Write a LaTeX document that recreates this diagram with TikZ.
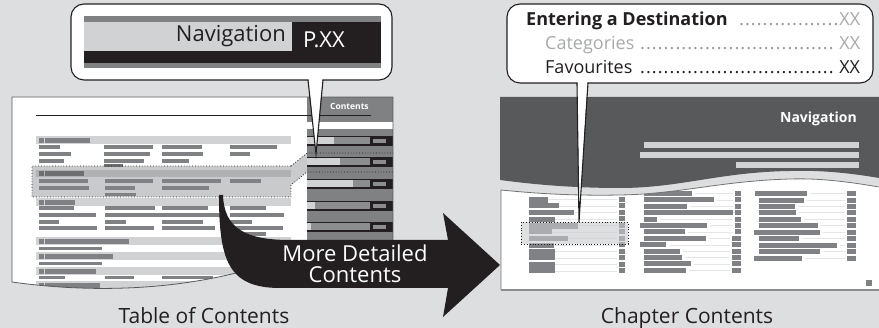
\documentclass[tikz,border=0pt]{standalone}
\usepackage{fontspec}
\setmainfont{Open Sans}
\definecolor{bgc}{RGB}{221,222,224}
\definecolor{barc}{RGB}{128,129,132}
\definecolor{bandc}{RGB}{209,210,212}
\definecolor{hdrc}{RGB}{88,89,91}
\definecolor{inkc}{RGB}{35,31,32}
\definecolor{midc}{RGB}{128,129,131}
\definecolor{tabbar}{RGB}{140,141,143}
\definecolor{hlc}{RGB}{201,202,204}
\definecolor{hlband}{RGB}{176,177,179}
\definecolor{hlbar}{RGB}{110,111,113}
\definecolor{dotgray}{RGB}{150,151,153}
\definecolor{lightgray2}{RGB}{168,169,171}
\definecolor{faintc}{RGB}{228,229,230}
\newcommand{\dotlead}{\leaders\hbox to 5.9pt{\hss.\hss}\hfill}
\begin{document}
\begin{tikzpicture}[x=1pt,y=-1pt,
  bar/.style={fill=barc},
  band/.style={fill=bandc},
  hdot/.style={dotted, line width=0.8pt, draw=inkc},
  callout/.style={fill=white, draw=inkc, line width=1.1pt, rounded corners=13pt},
  capt/.style={font=\fontsize{21}{21}\selectfont, text=inkc, inner sep=0pt, anchor=base, text depth=0pt},
  ctext/.style={font=\fontsize{18}{18}\selectfont, inner sep=0pt, anchor=base west}]
\useasboundingbox (0,0) rectangle (879,328);
\fill[bgc] (0,0) rectangle (879,328);

% ================= Table of contents page =================
\def\tocpage{(12,97) -- (393,97) -- (393,245) -- (240,272) .. controls (170,290) and (90,293) .. (12,282) -- cycle}
\fill[white] \tocpage;
\begin{scope}
\clip \tocpage;
% section header rows: y / bar end
\foreach \y/\b in {136/90,198/75,237/129,252/113,267/96,281/100}{
  \fill[band] (36,\y) rectangle (291,\y+8);
  \fill[barc] (39,\y+2) rectangle (44,\y+7);
  \fill[barc] (45,\y+2) rectangle (\b,\y+7);
}
% sub lines x1/x2/y
\foreach \a/\b/\y in {39/60/145.5,104/153/145.5,162/202/145.5,230/277/145.5,
  39/71/152.5,104/150/152.5,162/203/152.5,230/250/152.5,
  39/64/159.5,104/144/159.5,162/189/159.5,
  39/74/206.5,105/155/206.5,162/208/206.5,230/266/206.5,
  39/96/213.5,105/220/213.5,230/284/213.5,
  39/59/220.5,105/126/220.5,162/203/220.5,230/252/220.5,
  39/97/226.5,105/154/226.5,162/215/226.5,230/283/226.5,
  230/266/232.5,
  39/102/247,39/102/262,
  39/65/276,105/134/276,162/213/276}{
  \fill[barc] (\a,\y) rectangle (\b,\y+3.5);
}
% highlighted block
\fill[hlc] (32,166) rectangle (291,197);
\fill[hlc] (291,166) -- (307,153) -- (307,172) -- (291,185) -- cycle;
\fill[hlband] (36,170) rectangle (291,177);
\fill[hlbar] (39,171.5) rectangle (44,176);
\fill[hlbar] (45,171.5) rectangle (84,176);
\foreach \a/\b/\y in {39/88/179.5,105/153/179.5,162/221/179.5,230/261/179.5,
  39/89/186.5,105/135/186.5,162/209/186.5,105/136/193}{
  \fill[barc] (\a,\y) rectangle (\b,\y+3.5);
}
\fill[hlbar] (104,164.5) rectangle (123,167);
% contents tab
\fill[midc] (307,97) rectangle (393,245);
\fill[white] (307,122) rectangle (393,129);
\foreach \y/\s in {137/334,158/340,180/353,202/315,223/311}{
  \fill[inkc] (307,\y-1) rectangle (393,\y+9.5);
  \fill[bandc] (307,\y) rectangle (\s,\y+7);
  \fill[tabbar] (\s,\y) rectangle (370,\y+7);
  \fill[tabbar] (373,\y+2) rectangle (386,\y+6);
}
\end{scope}
\draw[draw=black!65, line width=0.8pt] \tocpage;
\draw[line width=0.9pt, draw=inkc] (36,115) -- (371,115);
\node[anchor=base west, inner sep=0pt, text=white, font=\bfseries\fontsize{8.5}{8.5}\selectfont] (ctab) at (330,110) {Contents};
% dotted outline of the highlighted block
\draw[hdot] (291,166) -- (32,166) -- (32,197) -- (291,197) -- (291,185) -- (307,172) -- (393,172);
\draw[hdot] (291,166) -- (307,153) -- (393,153);

% ================= Chapter page =================
\fill[hdrc] (500,97) -- (879,97) -- (879,178) .. controls (850,173) and (820,170) .. (790,171)
  .. controls (720,172) and (680,188) .. (620,188) .. controls (570,188) and (530,184) .. (500,180) -- cycle;
\node[anchor=base east, inner sep=0pt, text=white, font=\bfseries\fontsize{14}{14}\selectfont] (chnav) at (857,123) {Navigation};
\fill[bandc] (644,142) rectangle (859,148);
\fill[bandc] (640,152) rectangle (859,158);
\fill[bandc] (736,162) rectangle (859,168);
\def\chpage{(501,190) .. controls (531,193) and (570,196) .. (620,195) .. controls (680,194) and (720,181) .. (790,179) .. controls (820,178) and (850,182) .. (879,187) -- (879,290) -- (501,290) -- cycle}
\fill[white] \chpage;
\begin{scope}
\clip \chpage;
% column A
\foreach \y in {197,203.5,210,216.5,223,229.5,236,242.5,249,255.5,262,268.5}{
  \draw[faintc, line width=0.8pt] (545,\y+2.5) -- (617,\y+2.5);
  \fill[barc] (619,\y) rectangle (625,\y+5);
}
\foreach \t/\b/\e in {197/203/548,203.5/208.5/559,210/215.5/574,217/222/555,223/229/578,
  229.5/234.5/552,236/241.5/568,243/248/554,249/260/555,262/273/555}{
  \fill[barc] (529,\t) rectangle (\e,\b);
}
% column B
\foreach \y/\a/\b/\s in {191/644/692/735,197.5/644/714/735,204/644/687/735,210/644/733/735,
  217/644/657/735,223/640/707/735,229.5/644/685/735,236/644/706/732,242.5/640/666/732,
  249/644/680/732,255/644/682/732,261.5/644/691/732,268/644/686/732}{
  \draw[faintc, line width=0.8pt] (\b+3,\y+2.5) -- (\s-2,\y+2.5);
  \fill[barc] (\a,\y) rectangle (\b,\y+4.7);
  \fill[barc] (\s,\y) rectangle (741,\y+4.7);
}
% column C
\foreach \y/\a/\b in {191/755/807,198/759/804,204/759/795,210/759/796,217/759/801,223/759/818,
  230/754/820,236/759/799,243/759/837,249/759/820,256/754/802}{
  \draw[faintc, line width=0.8pt] (\b+3,\y+2.5) -- (845,\y+2.5);
  \fill[barc] (\a,\y) rectangle (\b,\y+4.7);
  \fill[barc] (847,\y) rectangle (856,\y+4.7);
}
\fill[barc] (866,280) rectangle (872,286);
\end{scope}
\draw[draw=black!55, line width=0.8pt] (501,290) -- (501,190) .. controls (531,193) and (570,196) .. (620,195) .. controls (680,194) and (720,181) .. (790,179) .. controls (820,178) and (850,182) .. (879,187);
\draw[draw=black!45, line width=2pt] (501,290) -- (879,290);
\fill[hlc, opacity=0.6] (521,222) rectangle (628,244);
\draw[hdot] (521,222) rectangle (628,244);

% ================= Arrow =================
\fill[inkc] (219,195) .. controls (219,260) and (228,288) .. (280,288) -- (448,288) -- (443,317) -- (500,265)
  -- (443,213) -- (448,240) -- (290,240) .. controls (245,240) and (224,228) .. (223,195) -- cycle;
\node[align=center, text=white, font=\fontsize{22}{21}\selectfont, inner sep=0pt] (arrowtext) at (355,264) {More Detailed\\Contents};

% ================= Left callout =================
\draw[callout] (71,4) rectangle (392,80);
\fill[white] (308.6,78.6) -- (322.4,78.6) -- (316,154) -- cycle;
\draw[inkc, line width=1.1pt, line join=miter] (308,80) -- (316,154) -- (323,80);
\fill[midc] (84,16) rectangle (381,22);
\fill[bandc] (84,22) rectangle (292,51);
\fill[inkc] (292,22) rectangle (381,63);
\fill[inkc] (84,51) rectangle (381,63);
\fill[midc] (84,63) rectangle (381,68);
\node[anchor=base east, inner sep=0pt, text=inkc, font=\fontsize{22}{22}\selectfont] (navlbl) at (286,42) {Navigation};
\node[anchor=base west, inner sep=0pt, text=white, font=\fontsize{22}{22}\selectfont] (pxx) at (303,48) {P.XX};

% ================= Right callout =================
\draw[callout] (507,4) rectangle (873,83);
\fill[white] (577.6,81.6) -- (587.4,81.6) -- (579,222) -- cycle;
\draw[inkc, line width=1.1pt, line join=miter] (577,83) -- (579,222) -- (588,83);
\node[ctext] (ent) at (526,26) {\hbox to 334pt{\textcolor{inkc}{\bfseries Entering a Destination}\hskip 6pt\textcolor{dotgray}{\dotlead}\textcolor{lightgray2}{XX}}};
\node[ctext] (cat) at (545,50) {\hbox to 315pt{\textcolor{lightgray2}{Categories}\hskip 5pt\textcolor{dotgray}{\dotlead}\textcolor{lightgray2}{XX}}};
\node[ctext] (fav) at (545,74) {\hbox to 315pt{\textcolor{inkc}{Favourites\hskip 5pt\dotlead XX}}};

% ================= Captions =================
\node[capt] (toc) at (204,323.5) {Table of Contents};
\node[capt] (chc) at (687,323.5) {Chapter Contents};
\end{tikzpicture}
\end{document}
